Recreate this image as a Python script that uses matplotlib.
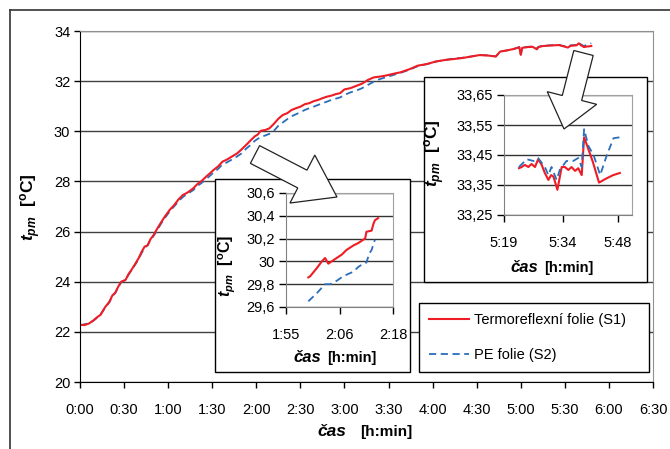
# Průběh teploty t_pm v čase – hlavní graf + dva výřezy (inset), uloženo do out.png
import matplotlib.pyplot as plt
from matplotlib.patches import Rectangle, FancyArrow
from matplotlib.lines import Line2D
from matplotlib.transforms import Affine2D

plt.rcParams['font.family'] = ['Liberation Sans', 'DejaVu Sans']
plt.rcParams['mathtext.fontset'] = 'custom'
plt.rcParams['mathtext.rm'] = 'Liberation Sans'
plt.rcParams['mathtext.it'] = 'Liberation Sans:italic'
plt.rcParams['mathtext.bf'] = 'Liberation Sans:bold'
plt.rcParams['mathtext.bfit'] = 'Liberation Sans:bold:italic'

# ---- data (čas v minutách od začátku měření) ----
t_main = [0, 3, 6, 9, 12, 14, 17, 20, 22, 24, 26, 28, 31, 33, 35, 38, 40, 42, 44, 46,
          48, 50, 52, 55, 58, 61, 64, 67, 70, 73, 77, 80, 83, 86, 88, 91, 94, 97, 100, 103,
          107, 110, 113, 116, 119, 121, 123, 126, 129, 132, 135, 138, 141, 144, 147, 150,
          153, 156, 159, 162, 165, 168, 171, 174, 177, 180, 184, 188, 192, 196, 200, 204,
          208, 213, 218, 224, 230, 236, 242, 248, 254, 260, 266, 272, 278, 283, 286, 290,
          295, 299, 300, 301, 305, 308, 311, 312, 315, 320, 326, 332, 334, 338, 339.5, 341,
          343, 345, 348]
s1_main = [22.28, 22.27, 22.33, 22.45, 22.6, 22.68, 22.98, 23.2, 23.45, 23.56, 23.8, 24.0,
           24.07, 24.3, 24.47, 24.75, 24.95, 25.2, 25.4, 25.45, 25.7, 25.85, 26.06, 26.35,
           26.62, 26.86, 27.05, 27.28, 27.46, 27.55, 27.72, 27.9, 28.03, 28.2, 28.3, 28.46,
           28.6, 28.79, 28.87, 28.98, 29.12, 29.28, 29.45, 29.63, 29.8, 29.87, 30.02, 30.05,
           30.12, 30.3, 30.5, 30.65, 30.72, 30.85, 30.92, 30.98, 31.08, 31.12, 31.2, 31.25,
           31.32, 31.38, 31.42, 31.48, 31.52, 31.67, 31.72, 31.81, 31.9, 32.05, 32.15, 32.18,
           32.22, 32.29, 32.35, 32.47, 32.62, 32.68, 32.78, 32.84, 32.88, 32.92, 32.98, 33.04,
           33.02, 32.98, 33.18, 33.22, 33.28, 33.35, 33.05, 33.33, 33.36, 33.37, 33.27, 33.36,
           33.4, 33.42, 33.44, 33.34, 33.41, 33.43, 33.51, 33.43, 33.36, 33.38, 33.4]
s2_main = [22.27, 22.3, 22.35, 22.44, 22.58, 22.7, 22.95, 23.18, 23.42, 23.55, 23.78, 23.97,
           24.08, 24.28, 24.45, 24.72, 24.92, 25.15, 25.36, 25.45, 25.66, 25.82, 26.0, 26.3,
           26.56, 26.8, 27.0, 27.2, 27.38, 27.5, 27.65, 27.82, 27.95, 28.1, 28.2, 28.36,
           28.5, 28.68, 28.76, 28.86, 29.0, 29.12, 29.3, 29.45, 29.62, 29.7, 29.78, 29.83,
           29.9, 30.02, 30.22, 30.35, 30.48, 30.6, 30.68, 30.76, 30.85, 30.92, 30.98, 31.05,
           31.12, 31.18, 31.25, 31.3, 31.35, 31.45, 31.55, 31.62, 31.72, 31.85, 31.98, 32.08,
           32.15, 32.24, 32.33, 32.45, 32.6, 32.68, 32.78, 32.84, 32.9, 32.93, 32.98, 33.04,
           33.03, 32.99, 33.18, 33.22, 33.28, 33.36, 33.06, 33.34, 33.37, 33.38, 33.3, 33.37,
           33.41, 33.43, 33.44, 33.37, 33.43, 33.44, 33.53, 33.46, 33.4, 33.45, 33.51]

# výřez 1 (kolem 2:06)
t_in1_s1 = [119.8, 120.2, 121.6, 122.7, 123.4, 124.1, 124.8, 125.9, 127.0, 128.0, 129.5,
            130.5, 131.6, 132.0, 132.3, 133.4, 133.8, 134.1, 134.8]
s1_in1 = [29.86, 29.87, 29.94, 30.0, 30.03, 29.98, 30.0, 30.03, 30.06, 30.1, 30.14,
          30.16, 30.19, 30.2, 30.26, 30.27, 30.33, 30.36, 30.38]
t_in1_s2 = [119.8, 121.6, 123.4, 124.5, 125.9, 127.3, 129.5, 130.5, 131.6, 132.3, 132.9,
            133.4, 134.1]
s2_in1 = [29.65, 29.72, 29.8, 29.8, 29.83, 29.87, 29.91, 29.95, 29.98, 29.99, 30.07,
          30.1, 30.19]

# výřez 2 (konec měření)
t_in2_s1 = [322.8, 323.5, 324.3, 325.2, 326.0, 326.9, 327.7, 328.6, 329.4, 330.3, 331.0,
            331.6, 332.6, 333.7, 334.5, 335.4, 336.2, 337.1, 337.9, 338.8, 339.4, 340.5,
            341.6, 343.2, 345.1, 346.8, 348.5]
s1_in2 = [33.406, 33.41, 33.417, 33.41, 33.42, 33.41, 33.436, 33.417, 33.39, 33.367, 33.383,
          33.378, 33.334, 33.41, 33.41, 33.40, 33.41, 33.397, 33.406, 33.383, 33.509, 33.469,
          33.428, 33.358, 33.372, 33.383, 33.39]
t_in2_s2 = [322.8, 324.8, 326.5, 327.7, 329.4, 330.3, 331.1, 332.4, 333.2, 334.9, 336.6,
            337.9, 338.8, 339.4, 340.5, 341.8, 343.5, 345.2, 346.9, 348.5]
s2_in2 = [33.41, 33.436, 33.43, 33.44, 33.41, 33.383, 33.41, 33.367, 33.40, 33.43, 33.43,
          33.44, 33.41, 33.536, 33.48, 33.45, 33.383, 33.45, 33.506, 33.509]

# osy a popisky
main_xticks = [0, 30, 60, 90, 120, 150, 180, 210, 240, 270, 300, 330, 360, 390]
main_xlabels = ['0:00', '0:30', '1:00', '1:30', '2:00', '2:30', '3:00', '3:30',
                '4:00', '4:30', '5:00', '5:30', '6:00', '6:30']
main_yticks = [20, 22, 24, 26, 28, 30, 32, 34]
in1_xticks = [115, 126.5, 138]
in1_xlabels = ['1:55', '2:06', '2:18']
in1_yticks = [29.6, 29.8, 30.0, 30.2, 30.4, 30.6]
in1_ylabels = ['29,6', '29,8', '30', '30,2', '30,4', '30,6']
in2_xticks = [319, 334, 348]
in2_xlabels = ['5:19', '5:34', '5:48']
in2_yticks = [33.25, 33.35, 33.45, 33.55, 33.65]
in2_ylabels = ['33,25', '33,35', '33,45', '33,55', '33,65']

RED = '#ee1c25'
BLUE = '#2a6ebb'
W, H = 670, 449

fig = plt.figure(figsize=(W / 100, H / 100), dpi=100)
fig.patch.set_facecolor('white')


def px_rect(l, t, r, b):
    # obdélník v pixelech (y dolů) -> souřadnice figury
    return [l / W, 1 - b / H, (r - l) / W, (b - t) / H]


px = Affine2D().scale(1 / W, -1 / H).translate(0, 1) + fig.transFigure
ylab = r'$\mathbfit{t}_{\mathbfit{pm}}\ \ \mathbf{[^{o}C]}$'


def style_axes(ax, left_col, frame_col, grid_col, tick_len, xpad):
    ax.spines['left'].set_color(left_col)
    ax.spines['bottom'].set_color(left_col)
    ax.spines['top'].set_color(frame_col)
    ax.spines['right'].set_color(frame_col)
    ax.yaxis.grid(True, color=grid_col, linewidth=1)
    ax.xaxis.grid(False)
    ax.set_axisbelow(True)
    ax.tick_params(direction='out', length=tick_len, width=1, colors='black',
                   labelsize=10.5, pad=3)
    ax.tick_params(axis='x', pad=xpad)


def xlabel(x, y, size, gap):
    # "čas" tučná kurzíva, "[h:min]" tučně
    fig.text((x - gap) / W, 1 - y / H, 'čas', ha='right', va='center', fontsize=size + 1.5,
             fontweight='bold', style='italic', zorder=3)
    fig.text((x + gap) / W, 1 - y / H, '[h:min]', ha='left', va='center', fontsize=size,
             fontweight='bold', zorder=3)


# ---- hlavní graf ----
ax = fig.add_axes(px_rect(80, 31, 653, 382))
ax.plot(t_main, s2_main, color=BLUE, lw=1.3, dashes=(4, 2.5))
ax.plot(t_main, s1_main, color=RED, lw=1.5)
ax.set_xlim(0, 390)
ax.set_ylim(20, 34)
ax.set_xticks(main_xticks, main_xlabels)
ax.set_yticks(main_yticks)
style_axes(ax, 'black', '#909090', '#404040', 4, 11)
fig.text(31 / W, 1 - 207 / H, ylab, rotation=90, ha='center', va='center', fontsize=12.5)
xlabel(353, 432, 11, 7)

# rámečky výřezů
for l, t, r, b in [(215, 179, 410, 372), (424, 77, 647, 282)]:
    fig.add_artist(Rectangle((l, t), r - l, b - t, transform=px, facecolor='white',
                             edgecolor='black', linewidth=1, zorder=1))

# ---- výřez 1 ----
ax1 = fig.add_axes(px_rect(286, 193, 393, 307))
ax1.set_zorder(2)
ax1.plot(t_in1_s1, s1_in1, color=RED, lw=1.5)
ax1.plot(t_in1_s2, s2_in1, color=BLUE, lw=1.3, dashes=(4, 2.5))
ax1.set_xlim(115, 138)
ax1.set_ylim(29.6, 30.6)
ax1.set_xticks(in1_xticks, in1_xlabels)
ax1.set_yticks(in1_yticks, in1_ylabels)
style_axes(ax1, '#808080', '#a0a0a0', '#333333', 5, 10)
fig.text(227 / W, 1 - 266 / H, ylab, rotation=90, ha='center', va='center',
         fontsize=11.5, zorder=3)
xlabel(324, 358, 10.5, 3)

# ---- výřez 2 ----
ax2 = fig.add_axes(px_rect(504, 95, 632, 215))
ax2.set_zorder(2)
ax2.plot(t_in2_s1, s1_in2, color=RED, lw=1.5)
ax2.plot(t_in2_s2, s2_in2, color=BLUE, lw=1.3, dashes=(4, 2.5))
ax2.set_xlim(319, 351.6)
ax2.set_ylim(33.25, 33.65)
ax2.set_xticks(in2_xticks, in2_xlabels)
ax2.set_yticks(in2_yticks, in2_ylabels)
style_axes(ax2, '#808080', '#a0a0a0', '#333333', 5, 10)
fig.text(435 / W, 1 - 153 / H, ylab, rotation=90, ha='center', va='center',
         fontsize=12.5, zorder=3)
xlabel(541, 268, 10.5, 3)

# šipky k výřezům
for x0, y0, dx, dy, hw, hl in [(255, 154.5, 82, 42.5, 54, 39), (583.5, 53, -19.5, 76, 51, 32)]:
    fig.add_artist(FancyArrow(x0, y0, dx, dy, width=20, head_width=hw, head_length=hl,
                              length_includes_head=True, transform=px, facecolor='white',
                              edgecolor='#222222', linewidth=0.9, zorder=4))

# legenda
handles = [Line2D([], [], color=RED, lw=1.5),
           Line2D([], [], color=BLUE, lw=1.3, dashes=(4, 2.5))]
leg = fig.legend(handles, ['Termoreflexní folie (S1)', 'PE folie (S2)'], loc='center',
                 bbox_to_anchor=px_rect(419, 300, 649, 375), mode='expand',
                 fancybox=False, framealpha=1, edgecolor='black', fontsize=10.5,
                 handlelength=2.75, handletextpad=0.3, labelspacing=1.4, borderpad=0.7,
                 borderaxespad=0)
leg.get_frame().set_linewidth(1)
leg.set_zorder(5)

# vnější rámeček (oříznutý vpravo a dole)
fig.add_artist(Line2D([10, 670], [10, 10], transform=px, color='#333333', lw=1.2))
fig.add_artist(Line2D([10, 10], [10, 449], transform=px, color='#333333', lw=1.2))

plt.savefig('out.png', dpi=100)
plt.close()
